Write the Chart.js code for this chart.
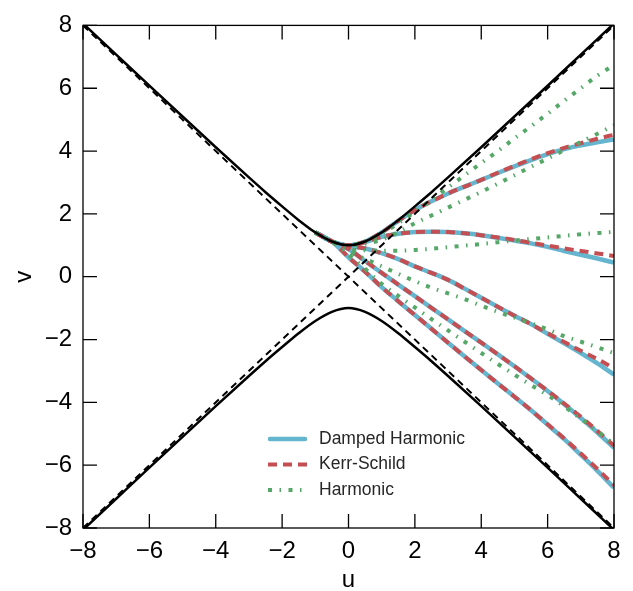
<!DOCTYPE html>
<html>
<head>
<meta charset="utf-8">
<script src="https://cdn.jsdelivr.net/npm/chart.js@4.4.1/dist/chart.umd.min.js"></script>
<style>
  html, body { margin: 0; padding: 0; background: #fff; }
  #wrap { width: 633px; height: 591px; }
</style>
</head>
<body>
<div id="wrap"><canvas id="geoChart" width="633" height="591"></canvas></div>
<script>
// axis ticks (same on both axes)
const tickValues = [-8, -6, -4, -2, 0, 2, 4, 6, 8];
const tickLabels = ['\u22128', '\u22126', '\u22124', '\u22122', '0', '2', '4', '6', '8'];

// black hyperbola (upper and lower branch)
const hypU     = [-8, -7, -6, -5, -4, -3, -2.5, -2, -1.5, -1, -0.5, 0, 0.5, 1, 1.5, 2, 2.5, 3, 4, 5, 6, 7, 8];
const hypUpper = [8.06, 7.07, 6.08, 5.10, 4.12, 3.16, 2.69, 2.24, 1.80, 1.41, 1.12, 1.00, 1.12, 1.41, 1.80, 2.24, 2.69, 3.16, 4.12, 5.10, 6.08, 7.07, 8.06];
const hypLower = [-8.06, -7.07, -6.08, -5.10, -4.12, -3.16, -2.69, -2.24, -1.80, -1.41, -1.12, -1.00, -1.12, -1.41, -1.80, -2.24, -2.69, -3.16, -4.12, -5.10, -6.08, -7.07, -8.06];

// black dashed light cone
const coneU    = [-8, 8];
const coneRise = [-8, 8];
const coneFall = [8, -8];

// short stretch every coloured curve shares (under the hyperbola)
const sharedU = [-1, -0.5];
const sharedV = [1.41, 1.12];

// right part of the coloured curves
const curveU = [0, 0.5, 1, 1.5, 2, 2.5, 3, 3.5, 4, 4.5, 5, 5.5, 6, 6.5, 7, 7.5, 8];

const dampedA = [1.00, 1.12, 1.41, 1.78, 2.12, 2.40, 2.65, 2.87, 3.08, 3.30, 3.51, 3.71, 3.90, 4.06, 4.18, 4.28, 4.37];
const dampedB = [1.00, 1.10, 1.27, 1.37, 1.42, 1.43, 1.42, 1.38, 1.32, 1.24, 1.15, 1.06, 0.95, 0.82, 0.70, 0.58, 0.45];
const dampedC = [0.98, 0.90, 0.75, 0.56, 0.33, 0.12, -0.10, -0.38, -0.67, -0.96, -1.24, -1.51, -1.82, -2.12, -2.43, -2.76, -3.12];
const dampedD = [0.88, 0.50, 0.12, -0.25, -0.62, -0.99, -1.36, -1.73, -2.10, -2.47, -2.85, -3.24, -3.64, -4.06, -4.50, -4.96, -5.45];
const dampedE = [0.62, 0.16, -0.33, -0.78, -1.22, -1.66, -2.10, -2.54, -2.97, -3.40, -3.82, -4.25, -4.71, -5.17, -5.67, -6.18, -6.72];

const kerrA = [1.00, 1.12, 1.41, 1.78, 2.12, 2.40, 2.65, 2.87, 3.08, 3.31, 3.53, 3.74, 3.93, 4.10, 4.25, 4.39, 4.52];
const kerrB = [1.00, 1.10, 1.27, 1.37, 1.42, 1.43, 1.42, 1.38, 1.32, 1.25, 1.17, 1.08, 0.99, 0.90, 0.82, 0.74, 0.66];
const kerrC = [0.98, 0.90, 0.75, 0.56, 0.33, 0.12, -0.10, -0.38, -0.67, -0.96, -1.24, -1.51, -1.80, -2.08, -2.36, -2.62, -2.92];
const kerrD = [0.88, 0.50, 0.12, -0.25, -0.62, -0.99, -1.36, -1.73, -2.10, -2.47, -2.85, -3.24, -3.63, -4.04, -4.46, -4.91, -5.38];
const kerrE = [0.62, 0.16, -0.33, -0.78, -1.22, -1.66, -2.10, -2.54, -2.97, -3.40, -3.82, -4.25, -4.70, -5.15, -5.63, -6.12, -6.64];

const harmonicA = [1.00, 1.12, 1.38, 1.70, 2.07, 2.45, 2.84, 3.23, 3.62, 4.00, 4.40, 4.79, 5.19, 5.60, 6.00, 6.40, 6.74];
const harmonicB = [1.00, 1.05, 1.18, 1.42, 1.70, 1.95, 2.20, 2.45, 2.70, 2.96, 3.23, 3.50, 3.76, 4.03, 4.29, 4.55, 4.82];
const harmonicC = [0.88, 0.84, 0.83, 0.83, 0.85, 0.89, 0.94, 0.99, 1.04, 1.10, 1.15, 1.20, 1.25, 1.30, 1.35, 1.39, 1.43];
const harmonicD = [0.80, 0.57, 0.33, 0.09, -0.14, -0.35, -0.53, -0.71, -0.92, -1.12, -1.30, -1.48, -1.68, -1.89, -2.07, -2.25, -2.43];
const harmonicE = [0.70, 0.25, -0.23, -0.61, -0.98, -1.35, -1.71, -2.07, -2.43, -2.78, -3.12, -3.45, -3.77, -4.13, -4.52, -4.92, -5.33];

const legendLabels = ['Damped Harmonic', 'Kerr-Schild', 'Harmonic'];

const styles = {
  damped:   { borderColor: '#64B5CD', borderWidth: 4.5, borderDash: [],                 borderCapStyle: 'butt' },
  kerr:     { borderColor: '#C44E52', borderWidth: 4,   borderDash: [9, 6],             borderCapStyle: 'butt' },
  harmonic: { borderColor: '#55A868', borderWidth: 4,   borderDash: [4, 7.5, 1.5, 7.5], borderCapStyle: 'butt' },
  hyper:    { borderColor: '#000000', borderWidth: 2.5, borderDash: [],                 borderCapStyle: 'butt' },
  cone:     { borderColor: '#000000', borderWidth: 2,   borderDash: [7, 5],             borderCapStyle: 'butt' }
};

function makeLine(us, vs, style) {
  return Object.assign({
    data: us.map((u, i) => ({ x: u, y: vs[i] })),
    pointRadius: 0,
    pointHoverRadius: 0,
    fill: false,
    cubicInterpolationMode: 'monotone',
    clip: 0
  }, style);
}

function coloured(vs, style) {
  return makeLine(sharedU.concat(curveU), sharedV.concat(vs), style);
}

// first dataset is painted last (on top)
const datasets = [
  makeLine(hypU, hypUpper, styles.hyper),
  makeLine(hypU, hypLower, styles.hyper),
  makeLine(coneU, coneRise, styles.cone),
  makeLine(coneU, coneFall, styles.cone),
  ...[harmonicA, harmonicB, harmonicC, harmonicD, harmonicE].map(v => coloured(v, styles.harmonic)),
  ...[kerrA, kerrB, kerrC, kerrD, kerrE].map(v => coloured(v, styles.kerr)),
  ...[dampedA, dampedB, dampedC, dampedD, dampedE].map(v => coloured(v, styles.damped))
];

// frame with inward ticks on all four sides
const frameTicks = {
  id: 'frameTicks',
  afterDatasetsDraw(chart) {
    const { ctx, chartArea: a, scales: { x, y } } = chart;
    const len = 14;
    ctx.save();
    ctx.strokeStyle = '#000';
    ctx.lineWidth = 1.3;
    ctx.setLineDash([]);
    ctx.strokeRect(a.left, a.top, a.right - a.left, a.bottom - a.top);
    ctx.beginPath();
    tickValues.forEach(v => {
      const px = x.getPixelForValue(v);
      ctx.moveTo(px, a.bottom); ctx.lineTo(px, a.bottom - len);
      ctx.moveTo(px, a.top);    ctx.lineTo(px, a.top + len);
      const py = y.getPixelForValue(v);
      ctx.moveTo(a.left, py);   ctx.lineTo(a.left + len, py);
      ctx.moveTo(a.right, py);  ctx.lineTo(a.right - len, py);
    });
    ctx.stroke();
    ctx.restore();
  }
};

// legend inside the plot, lower middle
const innerLegend = {
  id: 'innerLegend',
  afterDraw(chart) {
    const ctx = chart.ctx;
    const items = [
      { text: legendLabels[0], s: styles.damped, cap: 'round' },
      { text: legendLabels[1], s: styles.kerr, cap: 'butt' },
      { text: legendLabels[2], s: styles.harmonic, cap: 'butt' }
    ];
    ctx.save();
    items.forEach((it, i) => {
      const yy = 439 + i * 25.5;
      ctx.strokeStyle = it.s.borderColor;
      ctx.lineWidth = it.s.borderWidth;
      ctx.lineCap = it.cap;
      ctx.setLineDash(it.s.borderDash);
      ctx.beginPath();
      ctx.moveTo(it.cap === 'round' ? 270 : 268, yy);
      ctx.lineTo(it.cap === 'round' ? 305 : 307, yy);
      ctx.stroke();
      ctx.setLineDash([]);
      ctx.fillStyle = '#262626';
      ctx.font = "17.5px 'Liberation Sans', Arial, sans-serif";
      ctx.textBaseline = 'middle';
      ctx.fillText(it.text, 319, yy);
    });
    ctx.restore();
  }
};

const axisFont = { family: "'Liberation Sans', Arial, sans-serif", size: 24 };

function axis(title, titlePad, extra) {
  return Object.assign({
    type: 'linear',
    min: -8,
    max: 8,
    grid: { display: false, drawTicks: false },
    border: { display: false },
    afterBuildTicks: scale => { scale.ticks = tickValues.map(v => ({ value: v })); },
    title: { display: true, text: title, color: '#000', font: axisFont,
             padding: { top: titlePad, bottom: titlePad } }
  }, extra);
}

new Chart(document.getElementById('geoChart'), {
  type: 'line',
  data: { datasets },
  options: {
    responsive: false,
    animation: false,
    events: [],
    layout: { padding: { top: 21, right: 19, left: 0, bottom: 0 } },
    plugins: { legend: { display: false }, tooltip: { enabled: false } },
    scales: {
      x: axis('u', -4, {
        position: 'bottom',
        ticks: { color: '#000', font: axisFont, padding: 9, maxRotation: 0, autoSkip: false,
                 callback: (v, i) => tickLabels[i] },
        afterFit: scale => { scale.height = 63; }
      }),
      y: axis('v', 10, {
        position: 'left',
        ticks: { color: '#000', font: axisFont, padding: 11, autoSkip: false,
                 callback: (v, i) => tickLabels[i] },
        afterFit: scale => { scale.width = 83; }
      })
    }
  },
  plugins: [frameTicks, innerLegend]
});
</script>
</body>
</html>
